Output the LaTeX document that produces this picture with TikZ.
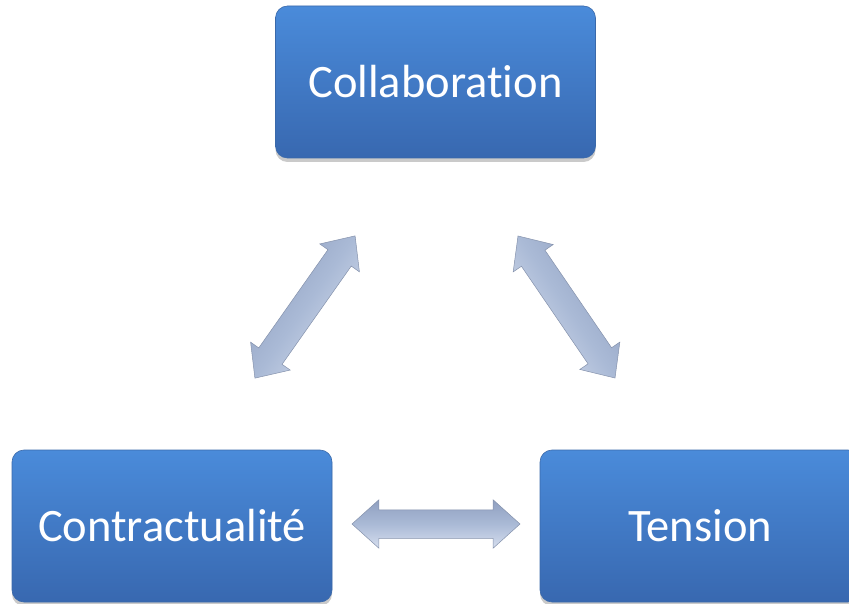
\documentclass[tikz,border=0pt]{standalone}
\usepackage{fontspec}
\setmainfont{Carlito}[Ligatures=NoCommon]
\usetikzlibrary{shapes.arrows,shadows}
\definecolor{boxtop}{HTML}{4A8BDA}
\definecolor{boxbot}{HTML}{3868B0}
\definecolor{boxline}{HTML}{3A69AA}
\definecolor{arrtop}{HTML}{8F9FC0}
\definecolor{arrmid}{HTML}{AABAD6}
\definecolor{arrbot}{HTML}{D6DEEE}
\definecolor{arrline}{HTML}{8592AC}
\begin{document}
\begin{tikzpicture}[x=1pt,y=-1pt,
  box/.style={rectangle, rounded corners=12pt, minimum width=320pt, minimum height=152pt,
    inner sep=0pt, top color=boxtop, bottom color=boxbot, draw=boxline, line width=0.6pt,
    text=white, font=\fontsize{46.5}{55}\selectfont,
    drop shadow={shadow xshift=0pt, shadow yshift=-4pt, opacity=0.35, fill=black!60}},
  darrow/.style={double arrow, sloped, inner xsep=0pt, inner ysep=14pt, minimum width=48pt,
    double arrow head extend=10pt, double arrow tip angle=84,
    top color=arrtop, bottom color=arrbot, middle color=arrmid,
    draw=arrline, line width=0.5pt}]
\useasboundingbox (0,0) rectangle (849,604);
\clip (0,0) rectangle (849,604);
\node[box] (coll) at (435.5,82) {Collaboration};
\node[box] (contr) at (172,526) {Contractualité};
\node[box] (tens) at (700,526) {Tension};
\coordinate (l1) at (255,378); \coordinate (l2) at (355,236);
\coordinate (r1) at (518,236); \coordinate (r2) at (615,378);
\coordinate (h1) at (352,524); \coordinate (h2) at (520,524);
\path (l1) -- node[darrow, minimum height=174pt, shading angle=55] (al) {} (l2);
\path (r1) -- node[darrow, minimum height=172pt, shading angle=-56] (ar) {} (r2);
\path (h1) -- node[darrow, minimum height=168pt] (ah) {} (h2);
\end{tikzpicture}
\end{document}
